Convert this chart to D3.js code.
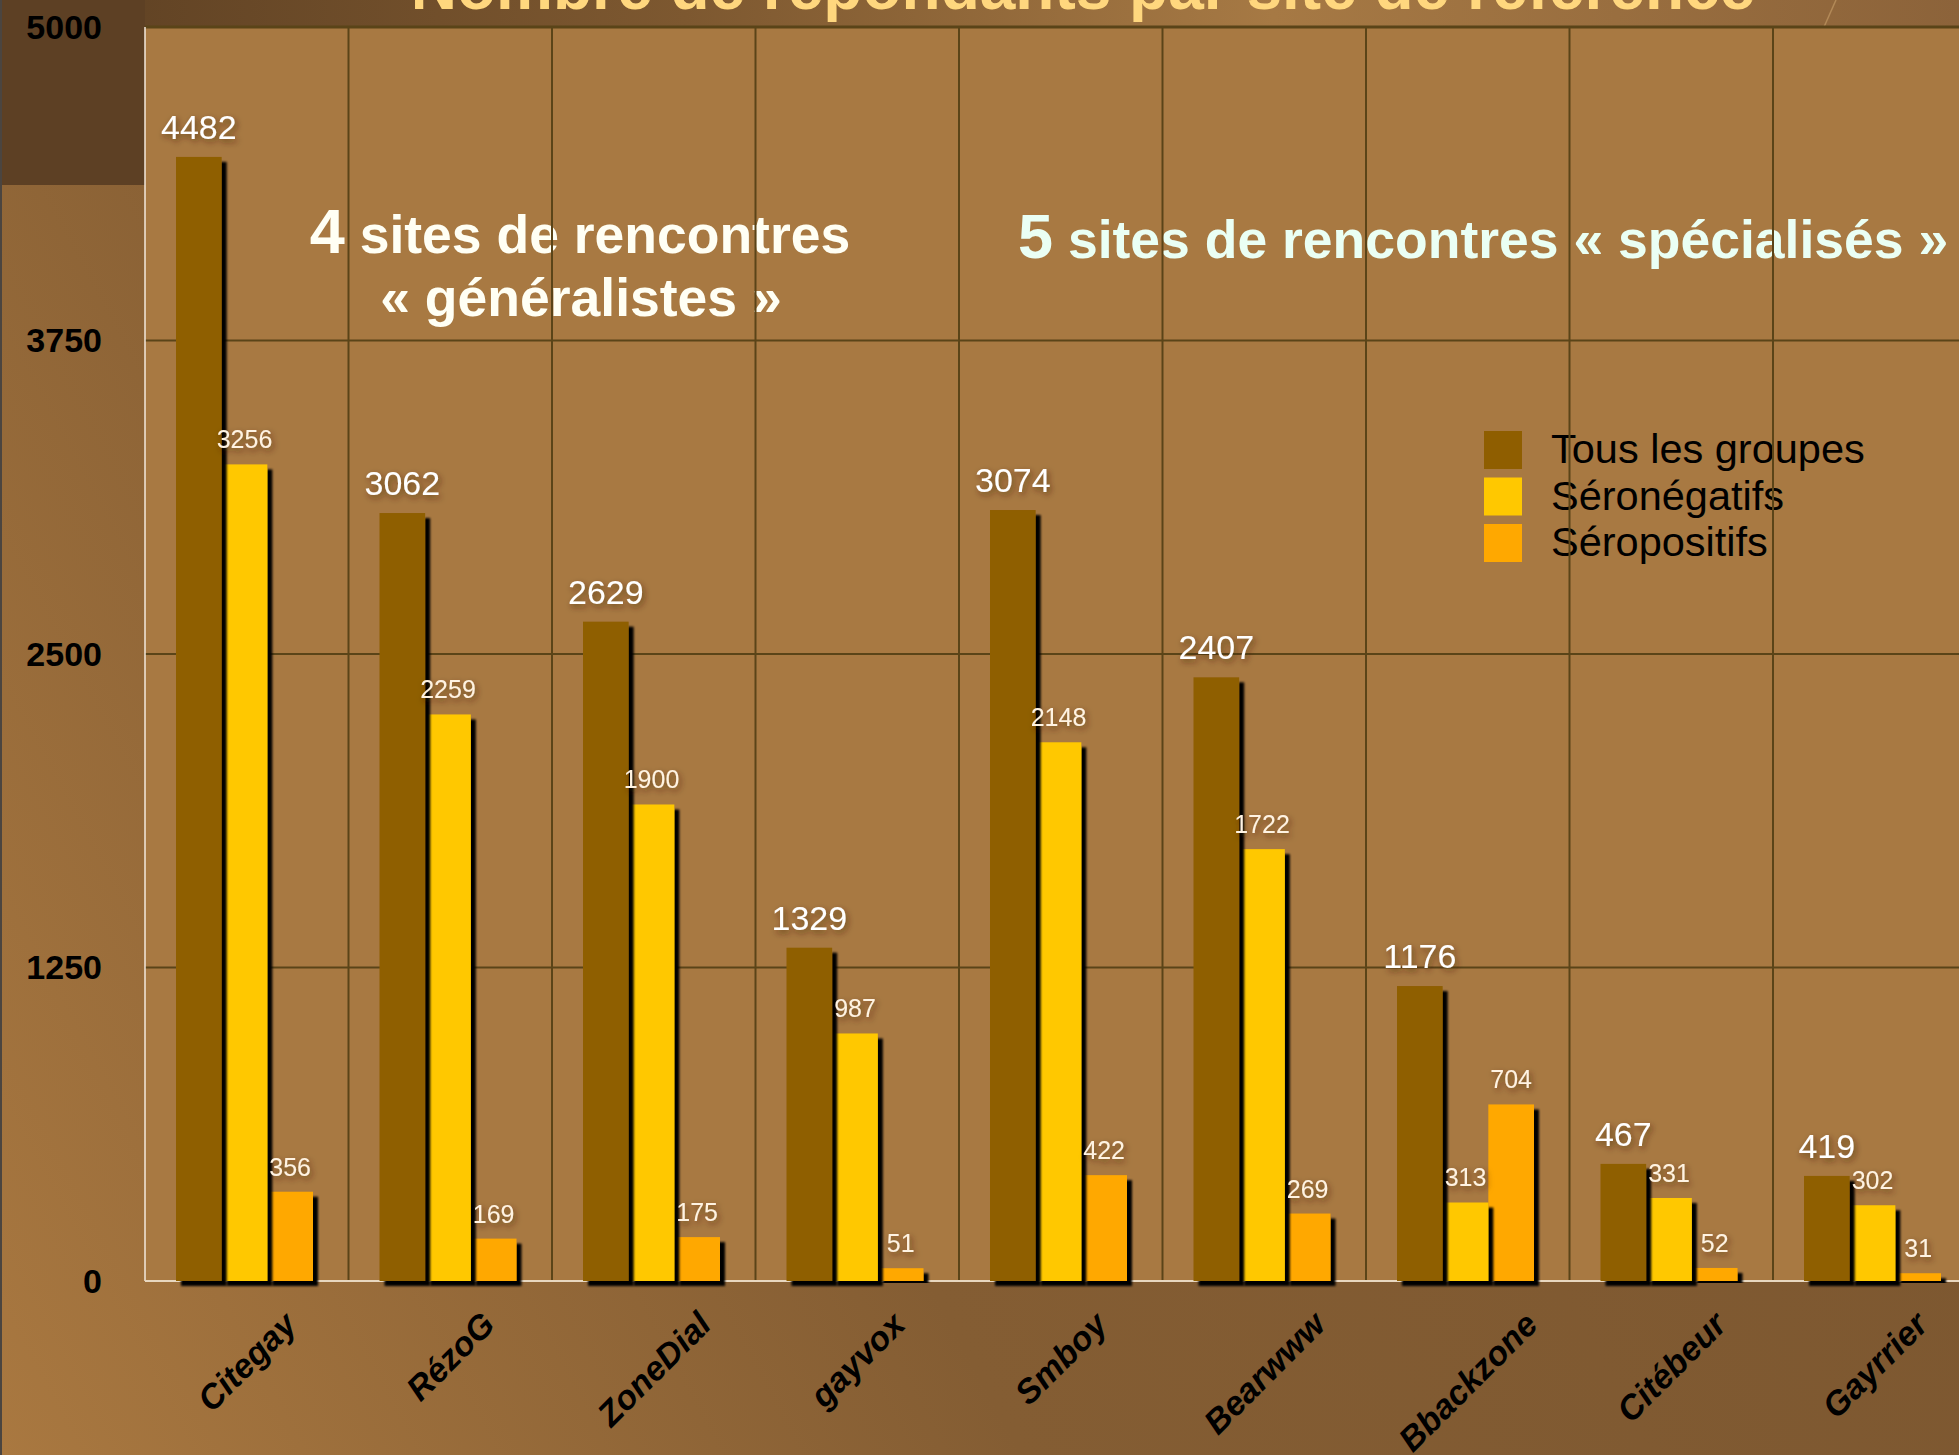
<!DOCTYPE html>
<html>
<head>
<meta charset="utf-8">
<script src="https://cdn.jsdelivr.net/npm/d3@7/dist/d3.min.js"></script>
<style>
  html, body { margin: 0; padding: 0; overflow: hidden; background: #7e5931; }
  svg { display: block; font-family: "Liberation Sans", Arial, sans-serif; }
</style>
</head>
<body>
<div id="host"></div>
<script>
// données
const sites = ['Citegay', 'RézoG', 'ZoneDial', 'gayvox', 'Smboy', 'Bearwww', 'Bbackzone', 'Citébeur', 'Gayrrier'];
const tousLesGroupes = [4482, 3062, 2629, 1329, 3074, 2407, 1176, 467, 419];
const seronegatifs = [3256, 2259, 1900, 987, 2148, 1722, 313, 331, 302];
const seropositifs = [356, 169, 175, 51, 422, 269, 704, 52, 31];
const seriesNames = ['Tous les groupes', 'Séronégatifs', 'Séropositifs'];
const seriesColors = ['#8f5e00', '#ffc800', '#ffa800'];
const yTicks = [0, 1250, 2500, 3750, 5000];

const width = 1959, height = 1455;
const margin = { top: 27, left: 145, bottom: 1281 };
const bandW = 203.5;

const series = [tousLesGroupes, seronegatifs, seropositifs];
const rows = sites.map((s, i) => ({ site: s, values: series.map((v, k) => ({ k, value: v[i] })) }));

const svg = d3.select('#host').append('svg').attr('width', width).attr('height', height);
const defs = svg.append('defs');

// fond dégradé
const bg = defs.append('linearGradient').attr('id', 'bg').attr('x1', '0%').attr('y1', '100%').attr('x2', '100%').attr('y2', '60%');
bg.append('stop').attr('offset', '0%').attr('stop-color', '#a97840');
bg.append('stop').attr('offset', '45%').attr('stop-color', '#845d33');
bg.append('stop').attr('offset', '100%').attr('stop-color', '#7c5730');

const topBand = defs.append('linearGradient').attr('id', 'topband');
topBand.append('stop').attr('offset', '0%').attr('stop-color', '#5c3f22');
topBand.append('stop').attr('offset', '35%').attr('stop-color', '#7d5830');
topBand.append('stop').attr('offset', '65%').attr('stop-color', '#a67944');
topBand.append('stop').attr('offset', '100%').attr('stop-color', '#8c633a');

const shadow = defs.append('filter').attr('id', 'barShadow')
  .attr('x', '-20%').attr('y', '-5%').attr('width', '160%').attr('height', '120%');
shadow.append('feDropShadow')
  .attr('dx', 5).attr('dy', 5).attr('stdDeviation', 1.2)
  .attr('flood-color', '#000').attr('flood-opacity', 1);

const glow = defs.append('filter').attr('id', 'textShadow')
  .attr('x', '-30%').attr('y', '-40%').attr('width', '160%').attr('height', '180%');
glow.append('feDropShadow')
  .attr('dx', 2).attr('dy', 3).attr('stdDeviation', 3)
  .attr('flood-color', '#3a2000').attr('flood-opacity', 0.6);

svg.append('rect').attr('width', width).attr('height', height).attr('fill', 'url(#bg)');
svg.append('rect').attr('width', width).attr('height', margin.top).attr('fill', 'url(#topband)');
svg.append('rect').attr('width', margin.left).attr('height', 185).attr('fill', '#5d4024');
svg.append('rect').attr('width', 2).attr('height', height).attr('fill', '#4b4540');
svg.append('line')
  .attr('x1', 1836).attr('y1', 0).attr('x2', 1824).attr('y2', margin.top)
  .attr('stroke', '#c9a06a').attr('stroke-width', 1.5).attr('opacity', 0.6);

// échelles
const x0 = d3.scaleBand()
  .domain(sites)
  .range([margin.left, margin.left + bandW * sites.length]);

const x1 = d3.scaleBand()
  .domain(d3.range(series.length))
  .range([31, 31 + 137]);

const y = d3.scaleLinear()
  .domain([0, 5000])
  .range([margin.bottom, margin.top]);

const plotRight = margin.left + bandW * sites.length;

svg.append('rect')
  .attr('x', margin.left).attr('y', margin.top)
  .attr('width', plotRight - margin.left).attr('height', margin.bottom - margin.top)
  .attr('fill', '#a87942');

// titre (coupé en haut)
svg.append('text')
  .attr('x', 1083).attr('y', 9)
  .attr('text-anchor', 'middle')
  .style('font-size', '64px').style('font-weight', 'bold')
  .style('fill', '#ffd77e')
  .text('Nombre de répondants par site de référence');

// annotations
const a1 = svg.append('text')
  .attr('x', 580).attr('y', 253)
  .attr('text-anchor', 'middle')
  .style('font-weight', 'bold').style('fill', '#fffff4');
a1.append('tspan').style('font-size', '63px').text('4');
a1.append('tspan').style('font-size', '53.5px').text(' sites de rencontres');
svg.append('text')
  .attr('x', 581).attr('y', 316)
  .attr('text-anchor', 'middle')
  .style('font-weight', 'bold').style('font-size', '53.5px').style('fill', '#fffff4')
  .text('« généralistes »');

const a2 = svg.append('text')
  .attr('x', 1018).attr('y', 258)
  .style('font-weight', 'bold').style('fill', '#eafff4');
a2.append('tspan').style('font-size', '63px').text('5');
a2.append('tspan').style('font-size', '53.5px').text(' sites de rencontres « spécialisés »');

// légende
const legend = svg.append('g').attr('transform', 'translate(1484,431)');
const item = legend.selectAll('g')
  .data(seriesNames)
  .join('g')
  .attr('transform', (d, i) => `translate(0,${i * 46.5})`);
item.append('rect')
  .attr('width', 38).attr('height', 38)
  .attr('fill', (d, i) => seriesColors[i]);
item.append('text')
  .attr('x', 67).attr('y', 32)
  .style('font-size', '41.5px').style('fill', '#000')
  .text(d => d);

// grille
const grid = svg.append('g').attr('stroke', '#5a4418').attr('stroke-width', 2);
grid.selectAll('line.v')
  .data(sites.slice(1).concat(['_end']))
  .join('line')
  .attr('class', 'v')
  .attr('x1', (d, i) => margin.left + bandW * (i + 1))
  .attr('x2', (d, i) => margin.left + bandW * (i + 1))
  .attr('y1', margin.top).attr('y2', margin.bottom);
grid.selectAll('line.h')
  .data(yTicks.slice(1))
  .join('line')
  .attr('class', 'h')
  .attr('x1', margin.left).attr('x2', plotRight)
  .attr('y1', d => y(d)).attr('y2', d => y(d))
  .attr('stroke-width', d => d === 5000 ? 3 : 2);

// axes
svg.append('line')
  .attr('x1', margin.left).attr('x2', margin.left)
  .attr('y1', margin.top).attr('y2', margin.bottom)
  .attr('stroke', '#f3e9dc').attr('stroke-width', 1.5);
svg.append('line')
  .attr('x1', margin.left).attr('x2', plotRight)
  .attr('y1', margin.bottom).attr('y2', margin.bottom)
  .attr('stroke', '#e8d7bf').attr('stroke-width', 2);

svg.append('g').selectAll('text')
  .data(yTicks)
  .join('text')
  .attr('x', 102).attr('y', d => y(d))
  .attr('dy', '0.35em')
  .attr('text-anchor', 'end')
  .style('font-size', '34px').style('font-weight', 'bold').style('fill', '#000')
  .text(d => d);

// barres : séries dessinées de droite à gauche pour que l'ombre recouvre la voisine
const groups = svg.append('g').selectAll('g')
  .data(rows)
  .join('g')
  .attr('transform', d => `translate(${x0(d.site)},0)`);

groups.selectAll('rect')
  .data(d => d.values.slice().reverse())
  .join('rect')
  .attr('x', d => x1(d.k))
  .attr('y', d => y(d.value))
  .attr('width', x1.bandwidth())
  .attr('height', d => y(0) - y(d.value))
  .attr('fill', d => seriesColors[d.k])
  .attr('filter', 'url(#barShadow)');

// étiquettes de valeurs
groups.selectAll('text.value')
  .data(d => d.values)
  .join('text')
  .attr('class', 'value')
  .attr('x', d => x1(d.k) + x1.bandwidth() / 2)
  .attr('y', d => y(d.value) - (d.k === 0 ? 18 : 16))
  .attr('text-anchor', 'middle')
  .attr('filter', 'url(#textShadow)')
  .style('font-size', d => d.k === 0 ? '34px' : '25px')
  .style('fill', d => d.k === 0 ? '#ffffff' : '#fff3e2')
  .text(d => d.value);

// noms des sites : centrés sous la catégorie, haut de la boîte aligné (comme Excel)
const labelSize = 34, labelTop = 1308;
svg.append('g').selectAll('text')
  .data(sites)
  .join('text')
  .attr('text-anchor', 'middle')
  .attr('dy', '0.35em')
  .style('font-size', labelSize + 'px').style('font-weight', 'bold').style('font-style', 'italic')
  .style('fill', '#000')
  .text(d => d)
  .each(function(d) {
    const w = this.getComputedTextLength();
    const half = (w + 0.85 * labelSize) * Math.SQRT1_2 / 2;
    d3.select(this).attr('transform', `translate(${x0(d) + x0.bandwidth() / 2},${labelTop + half}) rotate(-45)`);
  });
</script>
</body>
</html>
